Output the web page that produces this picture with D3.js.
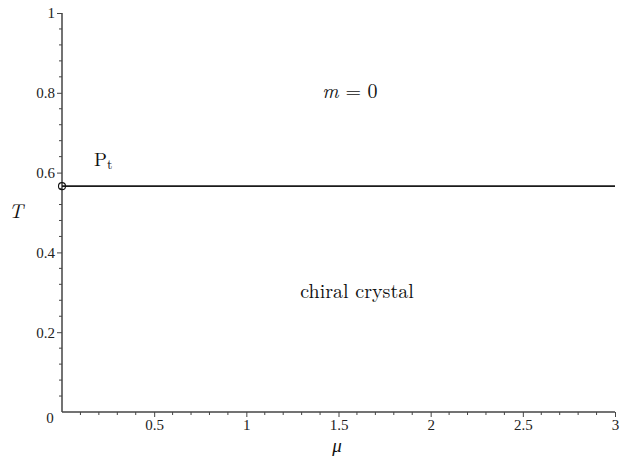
<!DOCTYPE html>
<html><head><meta charset="utf-8">
<script src="https://cdn.jsdelivr.net/npm/d3@7"></script>
</head>
<body style="margin:0;background:#fff"><svg id="c" width="621" height="460"></svg>
<script>
const xDomain = [0, 3];
const yDomain = [0, 1];
const xTicks = [0.5, 1, 1.5, 2, 2.5, 3];
const xTickLabels = ["0.5", "1", "1.5", "2", "2.5", "3"];
const yTicks = [0.2, 0.4, 0.6, 0.8, 1];
const yTickLabels = ["0.2", "0.4", "0.6", "0.8", "1"];
const xMinorStep = 0.1;
const yMinorStep = 0.04;
const transitionT = 0.566;
const lineMu = [0, 3];
const pointMu = [0];

const TICKF = "Liberation Serif";
const LM = "Latin Modern Roman, Liberation Serif";

const svg = d3.select("#c");
const x = d3.scaleLinear().domain(xDomain).range([62, 615]);
const y = d3.scaleLinear().domain(yDomain).range([412, 13]);

const axisColor = "#444";
const xMinor = d3.range(0, 3.0001, xMinorStep).filter(v => !xTicks.some(t => Math.abs(t - v) < 1e-6) && v > 1e-6);
const yMinor = d3.range(0, 1.0001, yMinorStep).filter(v => !yTicks.some(t => Math.abs(t - v) < 1e-6) && v > 1e-6);

svg.selectAll(".xm").data(xMinor).enter().append("line")
  .attr("x1", d => x(d)).attr("x2", d => x(d)).attr("y1", 412).attr("y2", 415)
  .attr("stroke", axisColor).attr("stroke-width", 1);
svg.selectAll(".ym").data(yMinor).enter().append("line")
  .attr("y1", d => y(d)).attr("y2", d => y(d)).attr("x1", 59).attr("x2", 62)
  .attr("stroke", axisColor).attr("stroke-width", 1);

const xAxis = d3.axisBottom(x).tickValues(xTicks).tickSize(5).tickFormat((d, i) => xTickLabels[i]);
const gx = svg.append("g").attr("transform", "translate(0,412)").call(xAxis);
gx.select(".domain").attr("stroke", axisColor).attr("stroke-width", 1.5).attr("d", "M62,0H615");
gx.selectAll(".tick line").attr("stroke", axisColor);
gx.selectAll(".tick text").attr("fill", "#222").attr("y", 7)
  .attr("font-family", TICKF).attr("font-size", 15);

const yAxis = d3.axisLeft(y).tickValues(yTicks).tickSize(5).tickFormat((d, i) => yTickLabels[i]);
const gy = svg.append("g").attr("transform", "translate(62,0)").call(yAxis);
gy.select(".domain").attr("stroke", axisColor).attr("stroke-width", 1.5).attr("d", "M0,412V13");
gy.selectAll(".tick line").attr("stroke", axisColor);
gy.selectAll(".tick text").attr("fill", "#222").attr("x", -7)
  .attr("font-family", TICKF).attr("font-size", 15);

svg.append("text").attr("x", 50).attr("y", 423).attr("text-anchor", "middle")
  .attr("font-family", TICKF).attr("font-size", 15).attr("fill", "#222").text("0");

svg.append("line")
  .attr("x1", x(lineMu[0])).attr("x2", x(lineMu[1]))
  .attr("y1", y(transitionT)).attr("y2", y(transitionT))
  .attr("stroke", "#1a1a1a").attr("stroke-width", 1.6);

svg.selectAll(".pt").data(pointMu).enter().append("circle")
  .attr("cx", d => x(d)).attr("cy", y(transitionT)).attr("r", 3.5)
  .attr("fill", "none").attr("stroke", "#111").attr("stroke-width", 1.1);

svg.append("text").attr("x", 16).attr("y", 218).attr("text-anchor", "middle")
  .attr("font-family", LM).attr("font-size", 20).attr("font-style", "italic").attr("fill", "#111").text("T");
svg.append("text").attr("x", 337).attr("y", 452).attr("text-anchor", "middle")
  .attr("font-family", LM).attr("font-size", 19).attr("font-style", "italic").attr("fill", "#111").text("μ");

const m0 = svg.append("text").attr("x", 350).attr("y", 98).attr("text-anchor", "middle")
  .attr("font-family", LM).attr("font-size", 20).attr("fill", "#111");
m0.append("tspan").attr("font-style", "italic").text("m");
m0.append("tspan").text(" = 0");

svg.append("text").attr("x", 357).attr("y", 298).attr("text-anchor", "middle")
  .attr("font-family", LM).attr("font-size", 20).attr("fill", "#111").text("chiral crystal");

const pt = svg.append("text").attr("x", 94).attr("y", 166).attr("font-family", LM).attr("font-size", 19).attr("fill", "#111");
pt.append("tspan").text("P");
pt.append("tspan").attr("dy", 3).attr("font-size", 14).text("t");
</script></body></html>
